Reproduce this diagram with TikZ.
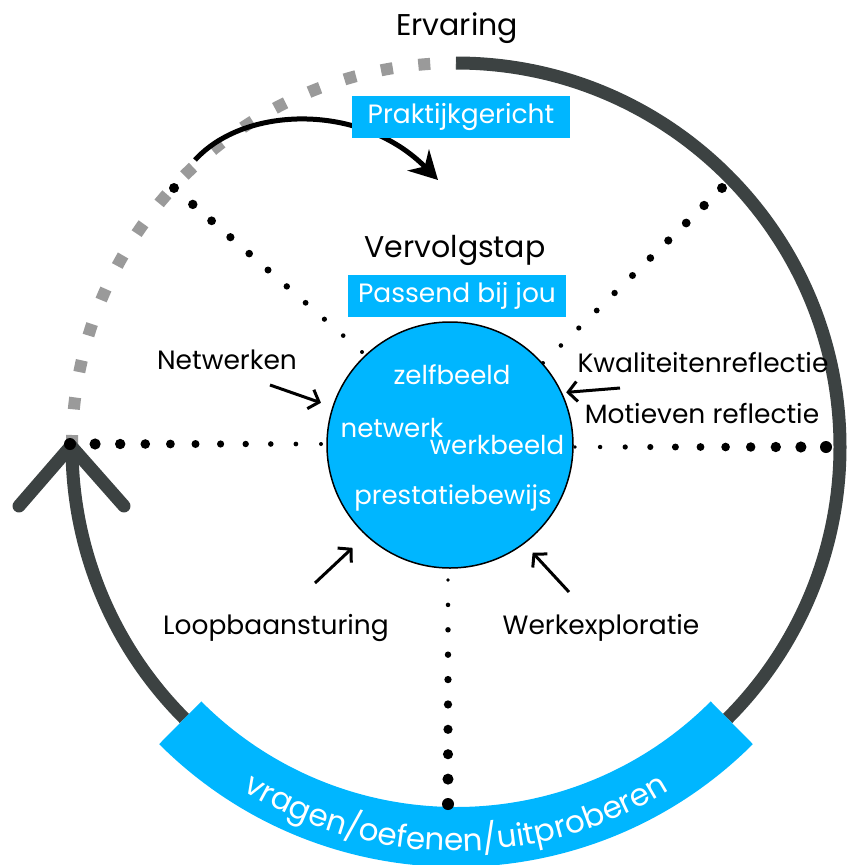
\documentclass[tikz,border=0pt]{standalone}
\usepackage{fontspec}
\setmainfont{Poppins}
\usetikzlibrary{arrows.meta,calc,decorations.text}
\definecolor{ringgrey}{HTML}{3C4242}
\definecolor{skyblue}{HTML}{00B6FF}
\definecolor{dashgrey}{HTML}{9A9A9A}
% a row of dots, growing from #3 to #4
\newcommand\dotrow[5]{%
  \foreach \i in {0,...,#5} {
    \pgfmathsetmacro\rr{#3+(#4-#3)*\i/#5}
    \fill ($(#1)!\i/#5!(#2)$) circle[radius=\rr];
  }}
\begin{document}
\begin{tikzpicture}[x=1pt,y=-1pt,
    label/.style={font=\fontsize{26.5}{28}\selectfont},
    title/.style={font=\fontsize{30}{32}\selectfont},
    tag/.style={fill=skyblue, text=white, font=\fontsize{26.5}{28}\selectfont,
      minimum width=218, minimum height=42, inner sep=0},
    word/.style={text=white, font=\fontsize{26}{28}\selectfont},
    pointer/.style={-{Straight Barb[length=9pt,width=20pt]}, line width=3pt},
    ring/.style={ringgrey, line width=13}]
  \useasboundingbox (0,0) rectangle (851,865);
  \coordinate (c) at (456,447);

  % outer ring
  \draw[ring] (c) ++(-90:384) arc[start angle=-90, end angle=45, radius=384];
  \draw[ring] (c) ++(135:384) arc[start angle=135, end angle=180, radius=384];
  \draw[dashgrey, line width=12, dash pattern=on 12pt off 25.7pt]
    (c) ++(180:384) arc[start angle=180, end angle=270, radius=384];
  \draw[ring, line cap=round, line join=round] (19,506) -- (71,446) -- (124,506);

  % band at the bottom
  \draw[skyblue, line width=60] (c) ++(135:390) arc[start angle=135, end angle=45, radius=390];
  \path[decorate, decoration={text along path, text align=center, text color=white,
      text={|\fontsize{31}{33}\selectfont|vragen/oefenen/uitproberen}}]
    (c) ++(135:404) arc[start angle=135, end angle=45, radius=404];

  % dotted spokes
  \dotrow{70,444}{321,444}{6}{2}{10}
  \dotrow{826,447}{575,447}{6}{1.8}{10}
  \dotrow{448,804}{448,580}{6}{1.8}{9}
  \dotrow{174,188}{362,352}{5}{2}{10}
  \dotrow{722,188}{543,363}{5}{2}{10}

  % top arrow
  \draw[line width=5, -{Stealth[length=28pt,width=30pt,inset=9pt]}]
    (195,160) .. controls (245,105) and (362,103) .. (438,180);

  \node at (457,28) [title] (ervaring) {Ervaring};
  \node at (461,117) [tag] (praktijk) {Praktijkgericht};
  \node at (455,250) [title] (vervolg) {Vervolgstap};
  \node at (457,296) [tag] (passend) {Passend bij jou};

  % centre
  \node at (450,445) [circle, fill=skyblue, draw=black, line width=1.5pt,
    minimum size=246] (core) {};
  \node at (452,375) [word] (zelf) {zelfbeeld};
  \node at (392,428) [word] (netwerk) {netwerk};
  \node at (497,445) [word] (werk) {werkbeeld};
  \node at (453,498) [word] (bewijs) {prestatiebewijs};

  \node at (227,360) [label] (netwerken) {Netwerken};
  \node at (703,362) [label] (kwal) {Kwaliteitenreflectie};
  \node at (702,413) [label] (motief) {Motieven reflectie};
  \node at (276,628) [label] (loop) {Loopbaansturing};
  \node at (601,628) [label] (explo) {Werkexploratie};

  \coordinate (netfrom) at (270,385);
  \coordinate (kwalfrom) at (620,388);
  \coordinate (loopfrom) at (315,583);
  \coordinate (explofrom) at (569,592);
  \begin{scope}[pointer]
    \draw[shorten >=12pt] (netfrom) to (core.162);
    \draw[shorten >=4pt] (kwalfrom) to (core.25);
    \draw[shorten >=18pt] (loopfrom) to (core.-133);
    \draw[shorten >=12pt] (explofrom) to (core.-53);
  \end{scope}
\end{tikzpicture}
\end{document}
